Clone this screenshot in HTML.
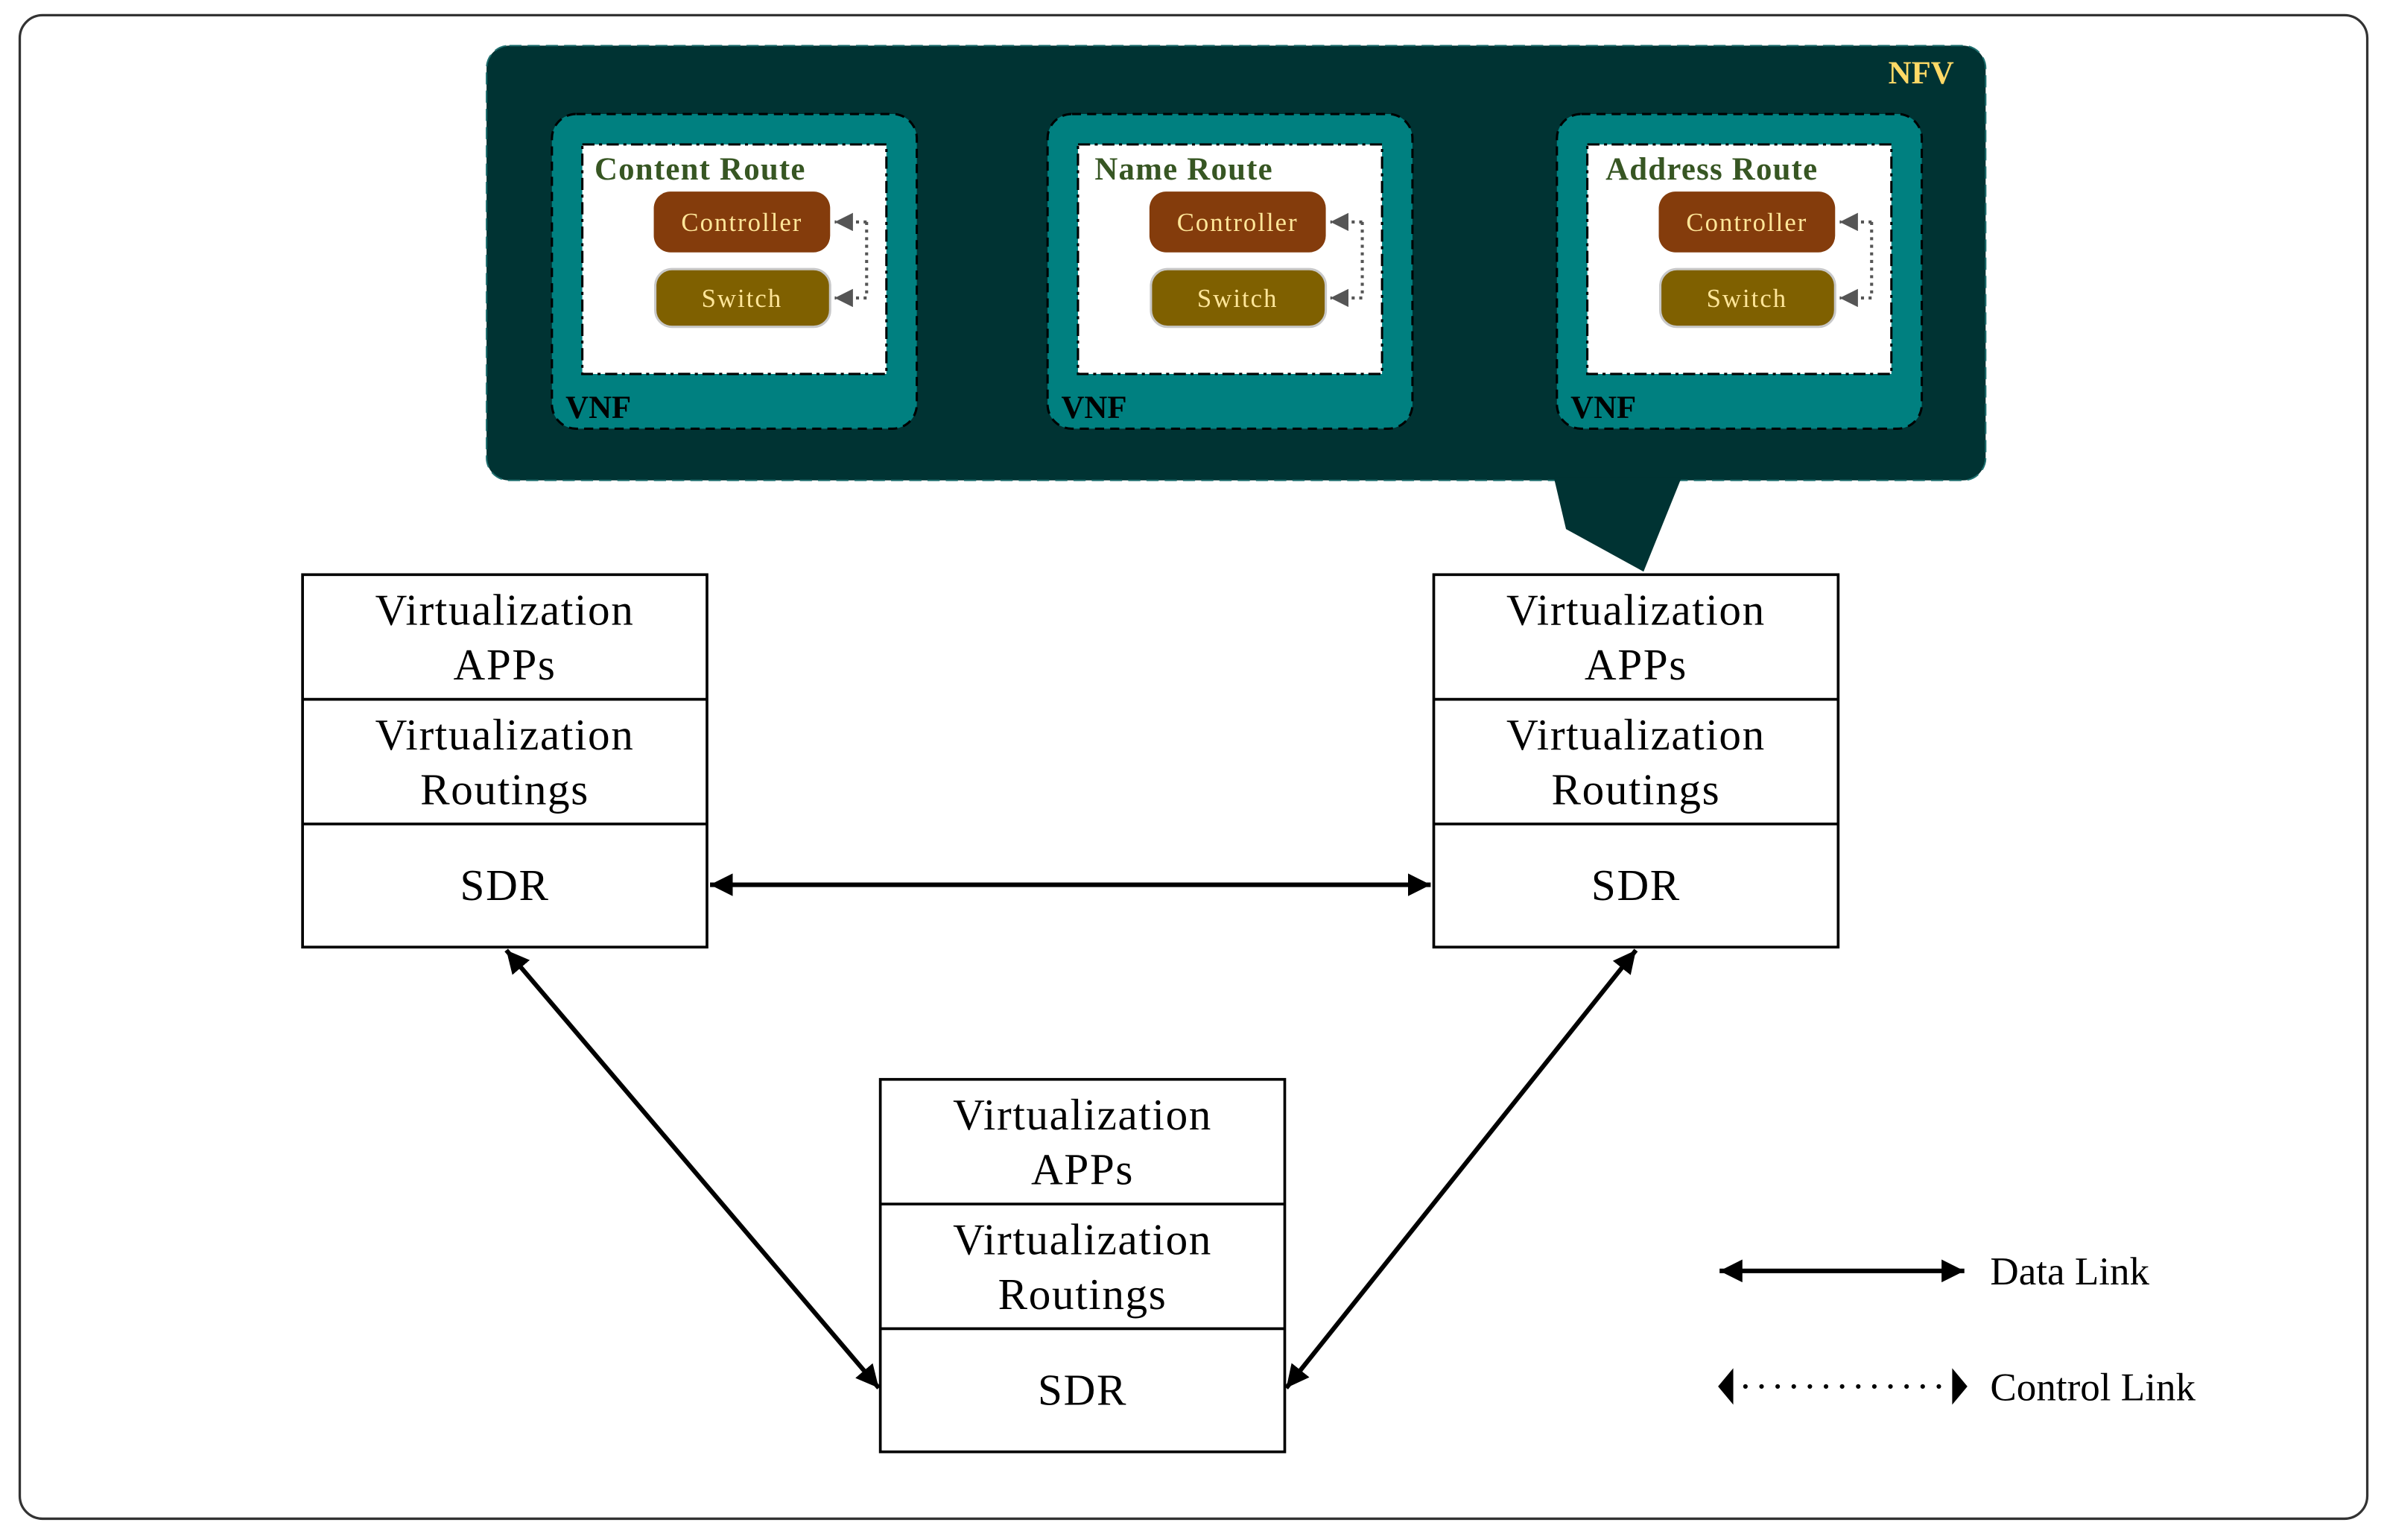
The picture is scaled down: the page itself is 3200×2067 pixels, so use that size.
<!DOCTYPE html>
<html><head><meta charset="utf-8"><style>html,body{margin:0;padding:0;background:#fff}svg{display:block}</style></head>
<body>
<svg width="3200" height="2067" viewBox="0 0 1568 1013" preserveAspectRatio="none" xmlns="http://www.w3.org/2000/svg" font-family="'Liberation Serif', serif">
<defs>
<marker id="ah" viewBox="0 0 10 10" refX="10" refY="5" markerWidth="5" markerHeight="5" orient="auto-start-reverse" markerUnits="strokeWidth"><path d="M0,0 L10,5 L0,10 Z" fill="#000"/></marker>
<marker id="gh" viewBox="0 0 10 10" refX="10" refY="5" markerWidth="6" markerHeight="6" orient="auto" markerUnits="strokeWidth"><path d="M0,0 L10,5 L0,10 Z" fill="#555"/></marker>
<g id="vnf">
<rect x="363" y="75" width="240" height="207" rx="16" fill="#008080" stroke="#000" stroke-width="1.5" stroke-dasharray="6,4"/>
<rect x="383" y="95" width="200" height="151" fill="#fff" stroke="#000" stroke-width="1.5" stroke-dasharray="8,3,2,3"/>
<rect x="430" y="126" width="116" height="40" rx="11" fill="#843c0c"/>
<text x="488" y="152" text-anchor="middle" font-size="17" letter-spacing="1" fill="#ffe699">Controller</text>
<rect x="431" y="177" width="115" height="38" rx="11" fill="#7f6000" stroke="#c8c8c8" stroke-width="1.5"/>
<text x="488" y="202" text-anchor="middle" font-size="17" letter-spacing="1" fill="#ffe699">Switch</text>
<path d="M570,146 L570,196" stroke="#555" stroke-width="2" stroke-dasharray="2,3"/>
<path d="M570,146 L549,146" stroke="#555" stroke-width="2" stroke-dasharray="2,3" marker-end="url(#gh)"/>
<path d="M570,196 L549,196" stroke="#555" stroke-width="2" stroke-dasharray="2,3" marker-end="url(#gh)"/>
<text x="372" y="275" font-size="21" font-weight="bold" fill="#000">VNF</text>
</g>
</defs>
<rect x="13" y="10" width="1544" height="989" rx="15" fill="#fff" stroke="#333" stroke-width="1.6"/>
<rect x="320" y="30" width="986" height="286" rx="15" fill="#003333" stroke="#1f6f6f" stroke-width="1" stroke-dasharray="8,4"/>
<polygon points="1022,314 1106,314 1081,376 1030,348" fill="#003333"/>
<text x="1242" y="55" font-size="21" font-weight="bold" fill="#ffd966">NFV</text>
<use href="#vnf"/>
<use href="#vnf" x="326"/>
<use href="#vnf" x="661"/>
<g font-size="21" font-weight="bold" fill="#375623" letter-spacing="0.6">
<text x="391" y="118">Content Route</text>
<text x="720" y="118">Name Route</text>
<text x="1056" y="118">Address Route</text>
</g>
<g fill="#fff" stroke="#000" stroke-width="1.8">
<rect x="199" y="378" width="266" height="245"/><line x1="199" y1="460" x2="465" y2="460"/><line x1="199" y1="542" x2="465" y2="542"/>
<rect x="943" y="378" width="266" height="245"/><line x1="943" y1="460" x2="1209" y2="460"/><line x1="943" y1="542" x2="1209" y2="542"/>
<rect x="579" y="710" width="266" height="245"/><line x1="579" y1="792" x2="845" y2="792"/><line x1="579" y1="874" x2="845" y2="874"/>
</g>
<g font-size="29" text-anchor="middle" fill="#000" letter-spacing="0.8">
<text x="332" y="411">Virtualization</text><text x="332" y="447">APPs</text>
<text x="332" y="493">Virtualization</text><text x="332" y="529">Routings</text>
<text x="332" y="592">SDR</text>
<text x="1076" y="411">Virtualization</text><text x="1076" y="447">APPs</text>
<text x="1076" y="493">Virtualization</text><text x="1076" y="529">Routings</text>
<text x="1076" y="592">SDR</text>
<text x="712" y="743">Virtualization</text><text x="712" y="779">APPs</text>
<text x="712" y="825">Virtualization</text><text x="712" y="861">Routings</text>
<text x="712" y="924">SDR</text>
</g>
<g stroke="#000" stroke-width="3" fill="none">
<line x1="467" y1="582" x2="941" y2="582" marker-start="url(#ah)" marker-end="url(#ah)"/>
<line x1="333" y1="625" x2="578" y2="913" marker-start="url(#ah)" marker-end="url(#ah)"/>
<line x1="1076" y1="625" x2="846" y2="913" marker-start="url(#ah)" marker-end="url(#ah)"/>
<line x1="1131" y1="836" x2="1292" y2="836" marker-start="url(#ah)" marker-end="url(#ah)"/>
</g>
<path d="M1148,912 L1276,912" stroke="#000" stroke-width="3" stroke-linecap="round" stroke-dasharray="0,10.6"/>
<path d="M1130,912 L1140,900 L1140,924 Z M1294,912 L1284,900 L1284,924 Z" fill="#000"/>
<text x="1309" y="845" font-size="26">Data Link</text>
<text x="1309" y="921" font-size="26">Control Link</text>
</svg>
</body></html>
